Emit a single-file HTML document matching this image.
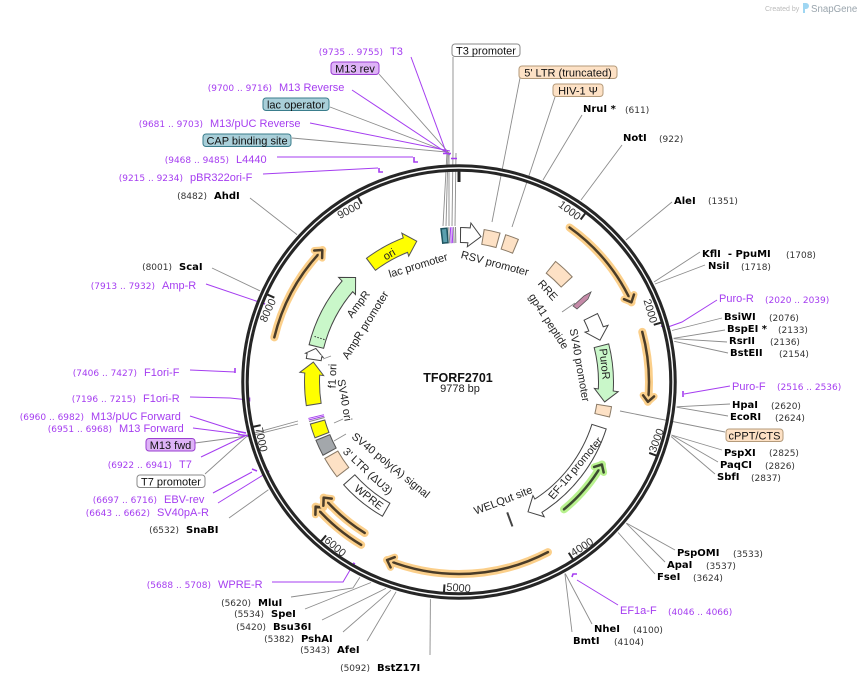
<!DOCTYPE html>
<html><head><meta charset="utf-8"><style>
html,body{margin:0;padding:0;background:#fff}
svg{display:block}
.n{font:9px "DejaVu Sans",sans-serif;fill:#333}
.e{font:bold 10px "DejaVu Sans",sans-serif;fill:#000}
.p{font:11px "Liberation Sans",sans-serif;fill:#a53df0}
.pn{font:9px "DejaVu Sans",sans-serif;fill:#a53df0}
.f{font:11px "Liberation Sans",sans-serif;fill:#222}
.a{fill:none}
.gl{stroke:#8c8c8c;stroke-width:0.9;fill:none}
.pl{stroke:#a53df0;stroke-width:1;fill:none}
.pm{stroke:#a53df0;stroke-width:1.6;fill:none}
</style></head><body>
<svg width="862" height="684" viewBox="0 0 862 684" xmlns="http://www.w3.org/2000/svg">
<rect width="862" height="684" fill="#fff"/>

<!-- Created by SnapGene -->
<text x="765" y="11" style="font:7px 'Liberation Sans',sans-serif;fill:#bbb">Created by</text>
<path d="M803,3h3a3,3 0 0 1 0,6h-1v4h-2z" fill="#9fd6f2"/>
<text x="811" y="12" style="font:9.7px 'Liberation Sans',sans-serif;fill:#9aa5ad">SnapGene</text>

<!-- leader lines: features (gray) -->
<g class="gl">
<polyline points="453,57 453,152 452,226"/>
<polyline points="330,107 448,152 446,226"/>
<polyline points="292,138 447,152 443,226"/>
<polyline points="379,74 449,153 449,226"/>
<line x1="456" y1="153" x2="455" y2="226"/>
<line x1="520" y1="78" x2="492" y2="222"/>
<line x1="555" y1="97" x2="512" y2="227"/>
<line x1="725" y1="432" x2="620" y2="411"/>
<polyline points="195,443 240,437 298,421"/>
<polyline points="205,474 246,437 298,424"/>
<line x1="562" y1="312" x2="575" y2="303"/>
<line x1="323" y1="359" x2="331" y2="356"/>
<line x1="334" y1="423" x2="343" y2="419"/>
<line x1="334" y1="441" x2="346" y2="434"/>
</g>

<!-- leader lines: enzymes -->
<g class="gl">
<line x1="582" y1="115" x2="543" y2="180"/>
<line x1="622" y1="145" x2="581" y2="200"/>
<line x1="672" y1="202" x2="626" y2="240"/>
<line x1="700" y1="252" x2="654" y2="282"/>
<line x1="705" y1="265" x2="655" y2="284"/>
<line x1="722" y1="318" x2="672" y2="330.5"/>
<line x1="725" y1="330" x2="673.6" y2="338.3"/>
<line x1="727" y1="342" x2="673.7" y2="338.7"/>
<line x1="728" y1="353" x2="674.2" y2="341.3"/>
<line x1="730" y1="404" x2="676.6" y2="406.8"/>
<line x1="728" y1="416" x2="676.6" y2="407.2"/>
<line x1="722" y1="450" x2="671.5" y2="435"/>
<line x1="718" y1="462" x2="671.5" y2="435.1"/>
<line x1="715" y1="474" x2="671.1" y2="436.5"/>
<line x1="675" y1="550" x2="626.5" y2="523.1"/>
<line x1="665" y1="562" x2="626.3" y2="523.3"/>
<line x1="655" y1="574" x2="618.1" y2="532.5"/>
<line x1="592" y1="624" x2="565.2" y2="573.5"/>
<line x1="572" y1="632" x2="564.9" y2="573.6"/>
<line x1="430" y1="655" x2="430.4" y2="599.1"/>
<line x1="367" y1="641" x2="396.1" y2="591.8"/>
<line x1="343" y1="632" x2="391" y2="590.2"/>
<line x1="322" y1="620" x2="385.9" y2="588.4"/>
<line x1="305" y1="609" x2="371" y2="582.5"/>
<polyline points="291,597 353,588 359.9,577.3"/>
<line x1="229" y1="518" x2="268.4" y2="489.8"/>
<line x1="212" y1="268" x2="259.9" y2="290.8"/>
<line x1="250" y1="198" x2="297" y2="234.6"/>
</g>

<!-- leader lines: primers -->
<g class="pl">
<line x1="411" y1="57" x2="446" y2="152"/>
<line x1="352" y1="90" x2="450" y2="155"/>
<line x1="310" y1="123" x2="450" y2="151"/>
<line x1="277" y1="157" x2="413" y2="157"/>
<line x1="263" y1="174" x2="378" y2="168"/>
<line x1="206" y1="284" x2="262" y2="303"/>
<line x1="190" y1="370" x2="235" y2="372"/>
<polyline points="190,397 230,398 249,400"/>
<line x1="190" y1="416" x2="240" y2="432"/>
<line x1="193" y1="428" x2="240" y2="434"/>
<line x1="201" y1="457" x2="245" y2="436"/>
<line x1="213" y1="493" x2="252" y2="472"/>
<line x1="218" y1="503" x2="268" y2="472"/>
<polyline points="272,582 343,582 353,565"/>
<line x1="618" y1="605" x2="577" y2="580"/>
<polyline points="717,300 682,322 668,327"/>
<line x1="730" y1="386" x2="684" y2="394"/>
</g>
<!-- primer marks -->
<g class="pm">
<path d="M443,153.5h8 M451,158.5h6"/>
<path d="M414,157v5h4"/>
<path d="M379,168v4h4"/>
<path d="M261,302l4,2"/>
<path d="M235,368v5"/>
<path d="M249.5,397.5v4"/>
<path d="M236,431l10,2 M238,434.5l12,1.5"/>
<path d="M252,469l5,2 M267,470l2,2"/>
<path d="M353,563l2,1"/>
<path d="M572,577l1,-3h4"/>
<path d="M661,326l6,1.5"/>
<path d="M683,391v6"/>
</g>

<!-- main circle -->
<g transform="translate(459 382)">
<circle r="214" fill="none" stroke="#262626" stroke-width="7.5"/>
<circle r="214" fill="none" stroke="#fff" stroke-width="1.4"/>
<line y1="-200" y2="-212" stroke="#262626" stroke-width="3"/>
<g stroke="#262626" stroke-width="2" style="font:11px 'Liberation Sans',sans-serif;fill:#333">
<g transform="rotate(36.82)"><line y1="-203" y2="-212"/><text x="-2" y="-200" text-anchor="end" stroke="none">1000</text></g>
<g transform="rotate(73.63)"><line y1="-203" y2="-212"/><text x="-2" y="-200" text-anchor="end" stroke="none">2000</text></g>
<g transform="rotate(110.45)"><line y1="-203" y2="-212"/><text transform="rotate(180)" x="2" y="209" stroke="none">3000</text></g>
<g transform="rotate(147.27)"><line y1="-203" y2="-212"/><text transform="rotate(180)" x="2" y="209" stroke="none">4000</text></g>
<g transform="rotate(184.09)"><line y1="-203" y2="-212"/><text transform="rotate(180)" x="2" y="209" stroke="none">5000</text></g>
<g transform="rotate(220.90)"><line y1="-203" y2="-212"/><text transform="rotate(180)" x="2" y="209" stroke="none">6000</text></g>
<g transform="rotate(257.72)"><line y1="-203" y2="-212"/><text transform="rotate(180)" x="2" y="209" stroke="none">7000</text></g>
<g transform="rotate(294.54)"><line y1="-203" y2="-212"/><text x="-2" y="-200" text-anchor="end" stroke="none">8000</text></g>
<g transform="rotate(331.36)"><line y1="-203" y2="-212"/><text x="-2" y="-200" text-anchor="end" stroke="none">9000</text></g>
</g>

<!-- ORF arcs -->
<g class="a" stroke-linecap="round" stroke-linejoin="round">
<path d="M0,-190A190,190 0 1 1 0,190A190,190 0 1 1 0,-190" pathLength="360" stroke="#fbcf8a" stroke-width="8" stroke-dasharray="29.6 999" stroke-dashoffset="-35.6"/>
<path d="M0,-190A190,190 0 1 1 0,190A190,190 0 1 1 0,-190" pathLength="360" stroke="#4a3c28" stroke-width="2.5" stroke-dasharray="29.3 999" stroke-dashoffset="-35.6"/>
<g transform="rotate(65.2)"><polyline points="-6,-195.5 0,-190 -6,-184.5" stroke="#fbcf8a" stroke-width="7"/><polyline points="-6,-195.5 0,-190 -6,-184.5" stroke="#4a3c28" stroke-width="2.5"/></g>
<path d="M0,-190A190,190 0 1 1 0,190A190,190 0 1 1 0,-190" pathLength="360" stroke="#fbcf8a" stroke-width="8" stroke-dasharray="21.3 999" stroke-dashoffset="-74.7"/>
<path d="M0,-190A190,190 0 1 1 0,190A190,190 0 1 1 0,-190" pathLength="360" stroke="#4a3c28" stroke-width="2.5" stroke-dasharray="21 999" stroke-dashoffset="-74.7"/>
<g transform="rotate(96)"><polyline points="-6,-195.5 0,-190 -6,-184.5" stroke="#fbcf8a" stroke-width="7"/><polyline points="-6,-195.5 0,-190 -6,-184.5" stroke="#4a3c28" stroke-width="2.5"/></g>
<path d="M0,-165A165,165 0 1 1 0,165A165,165 0 1 1 0,-165" pathLength="360" stroke="#b8f28e" stroke-width="8" stroke-dasharray="20.5 999" stroke-dashoffset="-120"/>
<path d="M0,-165A165,165 0 1 1 0,165A165,165 0 1 1 0,-165" pathLength="360" stroke="#3c4a30" stroke-width="2.5" stroke-dasharray="20.2 999" stroke-dashoffset="-120.3"/>
<g transform="rotate(120)"><polyline points="6,-170.5 0,-165 6,-159.5" stroke="#b8f28e" stroke-width="7"/><polyline points="6,-170.5 0,-165 6,-159.5" stroke="#3c4a30" stroke-width="2.5"/></g>
<path d="M0,-192A192,192 0 1 1 0,192A192,192 0 1 1 0,-192" pathLength="360" stroke="#fbcf8a" stroke-width="8" stroke-dasharray="49.6 999" stroke-dashoffset="-152.4"/>
<path d="M0,-192A192,192 0 1 1 0,192A192,192 0 1 1 0,-192" pathLength="360" stroke="#4a3c28" stroke-width="2.5" stroke-dasharray="49.3 999" stroke-dashoffset="-152.4"/>
<g transform="rotate(202)"><polyline points="-6,-197.5 0,-192 -6,-186.5" stroke="#fbcf8a" stroke-width="7"/><polyline points="-6,-197.5 0,-192 -6,-186.5" stroke="#4a3c28" stroke-width="2.5"/></g>
<path d="M0,-190A190,190 0 1 1 0,190A190,190 0 1 1 0,-190" pathLength="360" stroke="#fbcf8a" stroke-width="8" stroke-dasharray="18 999" stroke-dashoffset="-211"/>
<path d="M0,-190A190,190 0 1 1 0,190A190,190 0 1 1 0,-190" pathLength="360" stroke="#4a3c28" stroke-width="2.5" stroke-dasharray="17.7 999" stroke-dashoffset="-211"/>
<g transform="rotate(229)"><polyline points="-6,-195.5 0,-190 -6,-184.5" stroke="#fbcf8a" stroke-width="7"/><polyline points="-6,-195.5 0,-190 -6,-184.5" stroke="#4a3c28" stroke-width="2.5"/></g>
<path d="M0,-178A178,178 0 1 1 0,178A178,178 0 1 1 0,-178" pathLength="360" stroke="#fbcf8a" stroke-width="8" stroke-dasharray="17.5 999" stroke-dashoffset="-212"/>
<path d="M0,-178A178,178 0 1 1 0,178A178,178 0 1 1 0,-178" pathLength="360" stroke="#4a3c28" stroke-width="2.5" stroke-dasharray="17.2 999" stroke-dashoffset="-212"/>
<g transform="rotate(229.5)"><polyline points="-6,-183.5 0,-178 -6,-172.5" stroke="#fbcf8a" stroke-width="7"/><polyline points="-6,-183.5 0,-178 -6,-172.5" stroke="#4a3c28" stroke-width="2.5"/></g>
<path d="M0,-190A190,190 0 1 1 0,190A190,190 0 1 1 0,-190" pathLength="360" stroke="#fbcf8a" stroke-width="8" stroke-dasharray="30.4 999" stroke-dashoffset="-283.6"/>
<path d="M0,-190A190,190 0 1 1 0,190A190,190 0 1 1 0,-190" pathLength="360" stroke="#4a3c28" stroke-width="2.5" stroke-dasharray="30.1 999" stroke-dashoffset="-283.6"/>
<g transform="rotate(314)"><polyline points="-6,-195.5 0,-190 -6,-184.5" stroke="#fbcf8a" stroke-width="7"/><polyline points="-6,-195.5 0,-190 -6,-184.5" stroke="#4a3c28" stroke-width="2.5"/></g>
</g>

<!-- features r=147 -->
<g class="a">
<path d="M0,-147A147,147 0 1 1 0,147A147,147 0 1 1 0,-147" pathLength="360" stroke="#444" stroke-width="16" stroke-dasharray="3.9 999" stroke-dashoffset="-0.4"/>
<polygon transform="rotate(8.6)" points="0,-147 -12,-159 -12,-135" fill="#fff" stroke="#444"/>
<path d="M0,-147A147,147 0 1 1 0,147A147,147 0 1 1 0,-147" pathLength="360" stroke="#fff" stroke-width="14" stroke-dasharray="4.4 999" stroke-dashoffset="-0.8"/>
<path d="M0,-147A147,147 0 1 1 0,147A147,147 0 1 1 0,-147" pathLength="360" stroke="#8a7a66" stroke-width="16" stroke-dasharray="6.4 999" stroke-dashoffset="-9.2"/>
<path d="M0,-147A147,147 0 1 1 0,147A147,147 0 1 1 0,-147" pathLength="360" stroke="#fde1c5" stroke-width="14" stroke-dasharray="5.6 999" stroke-dashoffset="-9.6"/>
<path d="M0,-147A147,147 0 1 1 0,147A147,147 0 1 1 0,-147" pathLength="360" stroke="#8a7a66" stroke-width="16" stroke-dasharray="5.4 999" stroke-dashoffset="-17.4"/>
<path d="M0,-147A147,147 0 1 1 0,147A147,147 0 1 1 0,-147" pathLength="360" stroke="#fde1c5" stroke-width="14" stroke-dasharray="4.6 999" stroke-dashoffset="-17.8"/>
<path d="M0,-147A147,147 0 1 1 0,147A147,147 0 1 1 0,-147" pathLength="360" stroke="#8a7a66" stroke-width="16" stroke-dasharray="8.8 999" stroke-dashoffset="-38.5"/>
<path d="M0,-147A147,147 0 1 1 0,147A147,147 0 1 1 0,-147" pathLength="360" stroke="#fde1c5" stroke-width="14" stroke-dasharray="8 999" stroke-dashoffset="-38.9"/>
<path d="M0,-147A147,147 0 1 1 0,147A147,147 0 1 1 0,-147" pathLength="360" stroke="#444" stroke-width="16" stroke-dasharray="5.6 999" stroke-dashoffset="-63.5"/>
<polygon transform="rotate(73.5)" points="0,-147 -12,-159 -12,-135" fill="#fff" stroke="#444"/>
<path d="M0,-147A147,147 0 1 1 0,147A147,147 0 1 1 0,-147" pathLength="360" stroke="#fff" stroke-width="14" stroke-dasharray="5.9 999" stroke-dashoffset="-63.9"/>
<path d="M0,-147A147,147 0 1 1 0,147A147,147 0 1 1 0,-147" pathLength="360" stroke="#444" stroke-width="16" stroke-dasharray="17.9 999" stroke-dashoffset="-75.5"/>
<polygon transform="rotate(97.8)" points="0,-147 -12,-159 -12,-135" fill="#c9f7c9" stroke="#444"/>
<path d="M0,-147A147,147 0 1 1 0,147A147,147 0 1 1 0,-147" pathLength="360" stroke="#c9f7c9" stroke-width="14" stroke-dasharray="18.2 999" stroke-dashoffset="-75.9"/>
<path d="M0,-147A147,147 0 1 1 0,147A147,147 0 1 1 0,-147" pathLength="360" stroke="#8a7a66" stroke-width="16" stroke-dasharray="4.3 999" stroke-dashoffset="-99"/>
<path d="M0,-147A147,147 0 1 1 0,147A147,147 0 1 1 0,-147" pathLength="360" stroke="#fde1c5" stroke-width="14" stroke-dasharray="3.5 999" stroke-dashoffset="-99.4"/>
<path d="M0,-147A147,147 0 1 1 0,147A147,147 0 1 1 0,-147" pathLength="360" stroke="#444" stroke-width="16" stroke-dasharray="40.1 999" stroke-dashoffset="-107.5"/>
<polygon transform="rotate(152)" points="0,-147 -12,-159 -12,-135" fill="#fff" stroke="#444"/>
<path d="M0,-147A147,147 0 1 1 0,147A147,147 0 1 1 0,-147" pathLength="360" stroke="#fff" stroke-width="14" stroke-dasharray="40.4 999" stroke-dashoffset="-107.9"/>
<line transform="rotate(159.7)" y1="-139" y2="-154" stroke="#444" stroke-width="2"/>
<path d="M0,-147A147,147 0 1 1 0,147A147,147 0 1 1 0,-147" pathLength="360" stroke="#444" stroke-width="16" stroke-dasharray="19 999" stroke-dashoffset="-209.5"/>
<path d="M0,-147A147,147 0 1 1 0,147A147,147 0 1 1 0,-147" pathLength="360" stroke="#fff" stroke-width="14" stroke-dasharray="18.2 999" stroke-dashoffset="-209.9"/>
<path d="M0,-147A147,147 0 1 1 0,147A147,147 0 1 1 0,-147" pathLength="360" stroke="#8a7a66" stroke-width="16" stroke-dasharray="8.5 999" stroke-dashoffset="-232"/>
<path d="M0,-147A147,147 0 1 1 0,147A147,147 0 1 1 0,-147" pathLength="360" stroke="#fde1c5" stroke-width="14" stroke-dasharray="7.7 999" stroke-dashoffset="-232.4"/>
<path d="M0,-147A147,147 0 1 1 0,147A147,147 0 1 1 0,-147" pathLength="360" stroke="#555" stroke-width="16" stroke-dasharray="6.5 999" stroke-dashoffset="-241.5"/>
<path d="M0,-147A147,147 0 1 1 0,147A147,147 0 1 1 0,-147" pathLength="360" stroke="#a3a7ab" stroke-width="14" stroke-dasharray="5.7 999" stroke-dashoffset="-241.9"/>
<path d="M0,-147A147,147 0 1 1 0,147A147,147 0 1 1 0,-147" pathLength="360" stroke="#555" stroke-width="16" stroke-dasharray="5.8 999" stroke-dashoffset="-248.6"/>
<path d="M0,-147A147,147 0 1 1 0,147A147,147 0 1 1 0,-147" pathLength="360" stroke="#ffff00" stroke-width="14" stroke-dasharray="5 999" stroke-dashoffset="-249"/>
<line transform="rotate(255.2)" y1="-139" y2="-155" stroke="#888" stroke-width="1"/>
<line transform="rotate(255.8)" y1="-139" y2="-155" stroke="#a53df0" stroke-width="1"/>
<line transform="rotate(256.4)" y1="-139" y2="-155" stroke="#a53df0" stroke-width="1"/>
<path d="M0,-147A147,147 0 1 1 0,147A147,147 0 1 1 0,-147" pathLength="360" stroke="#555" stroke-width="16" stroke-dasharray="12.4 999" stroke-dashoffset="-261"/>
<polygon transform="rotate(277.8)" points="0,-147 -12,-159 -12,-135" fill="#ffff00" stroke="#555"/>
<path d="M0,-147A147,147 0 1 1 0,147A147,147 0 1 1 0,-147" pathLength="360" stroke="#ffff00" stroke-width="14" stroke-dasharray="12.7 999" stroke-dashoffset="-261.4"/>
<path d="M0,-147A147,147 0 1 1 0,147A147,147 0 1 1 0,-147" pathLength="360" stroke="#444" stroke-width="16" stroke-dasharray="2.1 999" stroke-dashoffset="-278.6"/>
<polygon transform="rotate(283.2)" points="0,-147 -7,-156 -7,-138" fill="#fff" stroke="#444"/>
<path d="M0,-147A147,147 0 1 1 0,147A147,147 0 1 1 0,-147" pathLength="360" stroke="#fff" stroke-width="14" stroke-dasharray="2 999" stroke-dashoffset="-279"/>
<path d="M0,-147A147,147 0 1 1 0,147A147,147 0 1 1 0,-147" pathLength="360" stroke="#444" stroke-width="16" stroke-dasharray="27.1 999" stroke-dashoffset="-283.8"/>
<polygon transform="rotate(315.3)" points="0,-147 -12,-159 -12,-135" fill="#c9f7c9" stroke="#444"/>
<path d="M0,-147A147,147 0 1 1 0,147A147,147 0 1 1 0,-147" pathLength="360" stroke="#c9f7c9" stroke-width="14" stroke-dasharray="27.4 999" stroke-dashoffset="-284.2"/>
<line transform="rotate(287.5)" y1="-141" y2="-153" stroke="#333" stroke-width="1" stroke-dasharray="1.5 1.5"/>
<path d="M0,-147A147,147 0 1 1 0,147A147,147 0 1 1 0,-147" pathLength="360" stroke="#555" stroke-width="16" stroke-dasharray="15.9 999" stroke-dashoffset="-323"/>
<polygon transform="rotate(343.3)" points="0,-147 -12,-159 -12,-135" fill="#ffff00" stroke="#555"/>
<path d="M0,-147A147,147 0 1 1 0,147A147,147 0 1 1 0,-147" pathLength="360" stroke="#ffff00" stroke-width="14" stroke-dasharray="16.2 999" stroke-dashoffset="-323.4"/>
<path d="M0,-147A147,147 0 1 1 0,147A147,147 0 1 1 0,-147" pathLength="360" stroke="#1f5560" stroke-width="16" stroke-dasharray="2.8 999" stroke-dashoffset="-353"/>
<path d="M0,-147A147,147 0 1 1 0,147A147,147 0 1 1 0,-147" pathLength="360" stroke="#5b9fae" stroke-width="13" stroke-dasharray="1.6 999" stroke-dashoffset="-353.6"/>
<line transform="rotate(356.2)" y1="-139" y2="-155" stroke="#888" stroke-width="1"/>
<line transform="rotate(356.8)" y1="-139" y2="-155" stroke="#a53df0" stroke-width="1"/>
<line transform="rotate(357.4)" y1="-139" y2="-155" stroke="#a53df0" stroke-width="1"/>
<line transform="rotate(358.0)" y1="-139" y2="-155" stroke="#888" stroke-width="1"/>
<line transform="rotate(358.7)" y1="-139" y2="-155" stroke="#888" stroke-width="1"/>
</g>
</g>
<!-- gp41 peptide -->
<polygon points="573,306 584,296 591,292 588,299 577,309" fill="#c58aa8" stroke="#555" stroke-width="0.8"/>

<!-- inner labels -->
<g class="f" text-anchor="middle">
<text transform="translate(418 265) rotate(-17)" y="4">lac promoter</text>
<text transform="translate(495 263) rotate(15)" y="4">RSV promoter</text>
<text transform="translate(389 254) rotate(-30)" y="4">ori</text>
<text transform="translate(548 290) rotate(48)" y="4">RRE</text>
<text transform="translate(549 321) rotate(57)" y="4">gp41 peptide</text>
<text transform="translate(580 365) rotate(80)" y="4">SV40 promoter</text>
<text transform="translate(605 364) rotate(84)" y="4">PuroR</text>
<text transform="translate(575 468) rotate(-50)" y="4">EF-1α promoter</text>
<text transform="translate(503 500) rotate(-21)" y="4">WELQut site</text>
<text transform="translate(358 304) rotate(-53)" y="4">AmpR</text>
<text transform="translate(365 325) rotate(-58)" y="4">AmpR promoter</text>
<text transform="translate(332 376) rotate(-88)" y="4">f1 ori</text>
<text transform="translate(345 400) rotate(80)" y="4">SV40 ori</text>
<text transform="translate(391 465) rotate(39)" y="4">SV40 poly(A) signal</text>
<text transform="translate(368 471) rotate(43)" y="4">3' LTR (ΔU3)</text>
<text transform="translate(369 497) rotate(38)" y="4">WPRE</text>
</g>

<!-- title -->
<text x="458" y="382" text-anchor="middle" style="font:bold 12.5px 'Liberation Sans',sans-serif;fill:#111">TFORF2701</text>
<text x="460" y="392" text-anchor="middle" style="font:11px 'Liberation Sans',sans-serif;fill:#222">9778 bp</text>

<!-- feature label boxes -->
<g style="font:11px 'Liberation Sans',sans-serif" text-anchor="middle">
<rect x="331" y="62" width="48" height="12.5" rx="3" fill="#deb3f7" stroke="#9a3fd0"/><text x="355" y="72.5" fill="#111">M13 rev</text>
<rect x="263" y="98" width="66" height="12.5" rx="3" fill="#a9cfd9" stroke="#3a7d8c"/><text x="296" y="108.5" fill="#111">lac operator</text>
<rect x="203" y="134" width="88" height="12.5" rx="3" fill="#a9cfd9" stroke="#3a7d8c"/><text x="247" y="144.5" fill="#111">CAP binding site</text>
<rect x="452" y="44" width="68" height="12.5" rx="3" fill="#fff" stroke="#888"/><text x="486" y="54.5" fill="#111">T3 promoter</text>
<rect x="519" y="66" width="98" height="12.5" rx="3" fill="#fde1c5" stroke="#b49a7a"/><text x="568" y="76.5" fill="#111">5' LTR (truncated)</text>
<rect x="553" y="84" width="50" height="12.5" rx="3" fill="#fde1c5" stroke="#b49a7a"/><text x="578" y="94.5" fill="#111">HIV-1 Ψ</text>
<rect x="726" y="429" width="57" height="12.5" rx="3" fill="#fde1c5" stroke="#b49a7a"/><text x="754.5" y="439.5" fill="#111">cPPT/CTS</text>
<rect x="146" y="438.5" width="49" height="12.5" rx="3" fill="#deb3f7" stroke="#9a3fd0"/><text x="170.5" y="449" fill="#111">M13 fwd</text>
<rect x="137" y="475" width="68" height="12.5" rx="3" fill="#fff" stroke="#888"/><text x="171" y="485.5" fill="#111">T7 promoter</text>
</g>

<!-- right side labels -->
<text class="e" x="583" y="112">NruI *</text><text class="n" x="625" y="113">(611)</text>
<text class="e" x="623" y="141">NotI</text><text class="n" x="659" y="142">(922)</text>
<text class="e" x="674" y="204">AleI</text><text class="n" x="708" y="204">(1351)</text>
<text class="e" x="702" y="257" xml:space="preserve">KflI  - PpuMI</text><text class="n" x="786" y="258">(1708)</text>
<text class="e" x="708" y="269">NsiI</text><text class="n" x="741" y="270">(1718)</text>
<text class="p" x="719" y="302">Puro-R</text><text class="pn" x="765" y="303">(2020 .. 2039)</text>
<text class="e" x="724" y="320">BsiWI</text><text class="n" x="769" y="321">(2076)</text>
<text class="e" x="727" y="332">BspEI *</text><text class="n" x="778" y="333">(2133)</text>
<text class="e" x="729" y="344">RsrII</text><text class="n" x="770" y="345">(2136)</text>
<text class="e" x="730" y="356">BstEII</text><text class="n" x="779" y="357">(2154)</text>
<text class="p" x="732" y="390">Puro-F</text><text class="pn" x="777" y="390">(2516 .. 2536)</text>
<text class="e" x="732" y="408">HpaI</text><text class="n" x="771" y="409">(2620)</text>
<text class="e" x="730" y="420">EcoRI</text><text class="n" x="775" y="421">(2624)</text>
<text class="e" x="724" y="456">PspXI</text><text class="n" x="769" y="456">(2825)</text>
<text class="e" x="720" y="468">PaqCI</text><text class="n" x="765" y="469">(2826)</text>
<text class="e" x="717" y="480">SbfI</text><text class="n" x="751" y="481">(2837)</text>
<text class="e" x="677" y="556">PspOMI</text><text class="n" x="733" y="557">(3533)</text>
<text class="e" x="667" y="568">ApaI</text><text class="n" x="706" y="569">(3537)</text>
<text class="e" x="657" y="580">FseI</text><text class="n" x="693" y="581">(3624)</text>
<text class="p" x="620" y="614">EF1a-F</text><text class="pn" x="668" y="615">(4046 .. 4066)</text>
<text class="e" x="594" y="632">NheI</text><text class="n" x="633" y="633">(4100)</text>
<text class="e" x="573" y="644">BmtI</text><text class="n" x="614" y="645">(4104)</text>

<!-- left / bottom labels -->
<text class="pn" x="383" y="55" text-anchor="end">(9735 .. 9755)</text><text class="p" x="390" y="55">T3</text>
<text class="pn" x="272" y="91" text-anchor="end">(9700 .. 9716)</text><text class="p" x="279" y="91">M13 Reverse</text>
<text class="pn" x="203" y="127" text-anchor="end">(9681 .. 9703)</text><text class="p" x="210" y="127">M13/pUC Reverse</text>
<text class="pn" x="229" y="163" text-anchor="end">(9468 .. 9485)</text><text class="p" x="236" y="163">L4440</text>
<text class="pn" x="183" y="181" text-anchor="end">(9215 .. 9234)</text><text class="p" x="190" y="181">pBR322ori-F</text>
<text class="n" x="207" y="199" text-anchor="end">(8482)</text><text class="e" x="214" y="199">AhdI</text>
<text class="n" x="172" y="270" text-anchor="end">(8001)</text><text class="e" x="179" y="270">ScaI</text>
<text class="pn" x="155" y="289" text-anchor="end">(7913 .. 7932)</text><text class="p" x="162" y="289">Amp-R</text>
<text class="pn" x="137" y="376" text-anchor="end">(7406 .. 7427)</text><text class="p" x="144" y="376">F1ori-F</text>
<text class="pn" x="136" y="402" text-anchor="end">(7196 .. 7215)</text><text class="p" x="143" y="402">F1ori-R</text>
<text class="pn" x="84" y="420" text-anchor="end">(6960 .. 6982)</text><text class="p" x="91" y="420">M13/pUC Forward</text>
<text class="pn" x="112" y="432" text-anchor="end">(6951 .. 6968)</text><text class="p" x="119" y="432">M13 Forward</text>
<text class="pn" x="172" y="468" text-anchor="end">(6922 .. 6941)</text><text class="p" x="179" y="468">T7</text>
<text class="pn" x="157" y="503" text-anchor="end">(6697 .. 6716)</text><text class="p" x="164" y="503">EBV-rev</text>
<text class="pn" x="150" y="516" text-anchor="end">(6643 .. 6662)</text><text class="p" x="157" y="516">SV40pA-R</text>
<text class="n" x="179" y="533" text-anchor="end">(6532)</text><text class="e" x="186" y="533">SnaBI</text>
<text class="pn" x="211" y="588" text-anchor="end">(5688 .. 5708)</text><text class="p" x="218" y="588">WPRE-R</text>
<text class="n" x="251" y="606" text-anchor="end">(5620)</text><text class="e" x="258" y="606">MluI</text>
<text class="n" x="264" y="617" text-anchor="end">(5534)</text><text class="e" x="271" y="617">SpeI</text>
<text class="n" x="266" y="630" text-anchor="end">(5420)</text><text class="e" x="273" y="630">Bsu36I</text>
<text class="n" x="294" y="642" text-anchor="end">(5382)</text><text class="e" x="301" y="642">PshAI</text>
<text class="n" x="330" y="653" text-anchor="end">(5343)</text><text class="e" x="337" y="653">AfeI</text>
<text class="n" x="370" y="671" text-anchor="end">(5092)</text><text class="e" x="377" y="671">BstZ17I</text>
</svg>
</body></html>
